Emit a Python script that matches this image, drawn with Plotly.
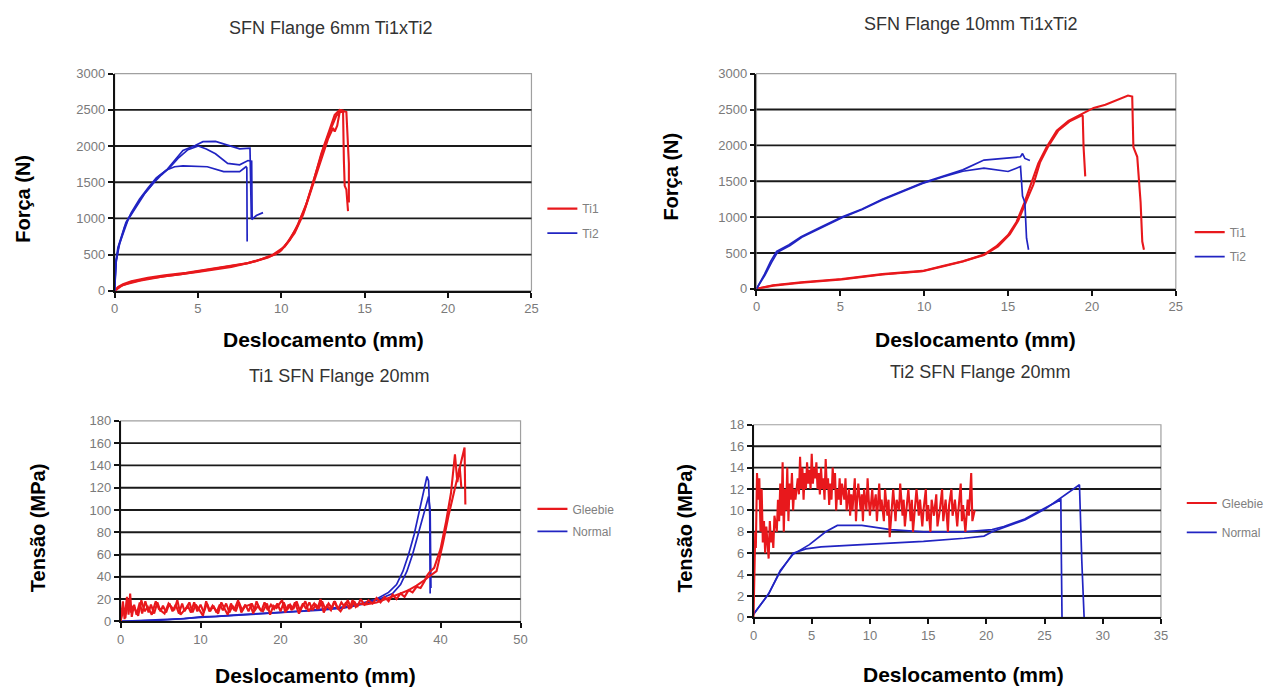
import plotly.graph_objects as go

RED = '#e8181c'
BLUE = '#2124c2'
PAGE_OFFSET = 8  # default body margin of the html page
W, H = 1285 - 2 * PAGE_OFFSET, 697 - 2 * PAGE_OFFSET

# ---- SFN Flange 6mm Ti1xTi2 : Força (N) x Deslocamento (mm)
f6_ti1_a_x = [0, 0.2, 0.5, 1.0, 2.0, 3.0, 4.3, 5.5, 6.8, 8.0, 9.0, 9.6, 10.0, 10.4, 10.9, 11.4, 11.9, 12.4, 12.9, 13.2, 13.5, 13.7, 13.75, 13.8, 13.9, 14.0]
f6_ti1_a_y = [0, 50, 90, 130, 180, 215, 248, 290, 335, 385, 450, 500, 560, 680, 860, 1130, 1490, 1900, 2230, 2430, 2500, 2490, 1800, 1450, 1400, 1100]
f6_ti1_b_x = [0, 0.3, 1.0, 2.0, 4.0, 6.0, 8.0, 9.2, 9.9, 10.5, 11.0, 11.5, 12.0, 12.5, 12.9, 13.3, 13.6, 13.9, 14.05, 14.05]
f6_ti1_b_y = [0, 60, 120, 170, 230, 300, 380, 460, 540, 700, 920, 1200, 1560, 1950, 2200, 2420, 2490, 2470, 1760, 1220]
f6_ti1_c_x = [0, 0.5, 1.5, 3.0, 5.0, 7.0, 8.5, 9.5, 10.2, 10.8, 11.3, 11.8, 12.3, 12.8, 13.1, 13.2, 13.35, 13.5, 13.75]
f6_ti1_c_y = [0, 80, 140, 200, 260, 330, 410, 500, 610, 800, 1050, 1400, 1780, 2100, 2250, 2200, 2280, 2470, 2470]

f6_ti2_a_x = [0, 0.07, 0.2, 0.44, 0.68, 1.17, 1.66, 2.15, 2.63, 3.12, 3.6, 4.1, 4.83, 5.3, 6.05, 6.78, 7.5, 8.12, 8.2, 8.25, 8.5, 8.9]
f6_ti2_a_y = [0, 400, 600, 767, 947, 1128, 1308, 1443, 1579, 1669, 1800, 1940, 2007, 2060, 2065, 2010, 1962, 1970, 1000, 990, 1040, 1080]
f6_ti2_b_x = [0, 0.08, 0.25, 0.5, 0.8, 1.3, 1.8, 2.3, 2.8, 3.3, 3.8, 4.4, 5.02, 5.5, 6.05, 6.78, 7.5, 8.0, 8.22, 8.25]
f6_ti2_b_y = [0, 380, 620, 790, 980, 1160, 1340, 1480, 1600, 1700, 1830, 1950, 2000, 1960, 1894, 1760, 1740, 1800, 1790, 1000]
f6_ti2_c_x = [0, 0.1, 0.3, 0.6, 1.0, 1.5, 2.0, 2.5, 3.12, 3.6, 4.1, 5.56, 6.54, 7.5, 7.88, 7.93, 7.95]
f6_ti2_c_y = [0, 420, 650, 880, 1080, 1270, 1420, 1560, 1669, 1714, 1727, 1714, 1646, 1646, 1714, 1700, 680]

# ---- SFN Flange 10mm Ti1xTi2
f10_ti1_a_x = [0, 1, 2.66, 5.08, 7.5, 9.9, 11.1, 12.3, 13.56, 14.29, 15.0, 15.5, 15.98, 16.34, 16.8, 17.3, 17.9, 18.6, 19.4, 20.1, 20.8, 21.5, 22.15, 22.4, 22.47, 22.7, 22.9, 23.0, 23.1]
f10_ti1_a_y = [0, 50, 91, 136, 205, 250, 318, 386, 477, 591, 750, 932, 1205, 1432, 1750, 1977, 2205, 2341, 2432, 2523, 2568, 2636, 2695, 2682, 1977, 1841, 1205, 659, 545]
f10_ti1_b_x = [0, 1, 2.66, 5.08, 7.5, 9.9, 11.1, 12.3, 13.56, 14.4, 15.1, 15.6, 16.1, 16.5, 16.9, 17.4, 18.0, 18.7, 19.4, 19.45, 19.5, 19.6]
f10_ti1_b_y = [0, 45, 85, 130, 200, 245, 310, 380, 470, 590, 760, 950, 1230, 1450, 1760, 1990, 2210, 2340, 2420, 2409, 1977, 1568]

f10_ti2_a_x = [0, 0.48, 0.85, 1.2, 1.94, 2.66, 3.87, 5.08, 6.3, 7.5, 8.7, 9.9, 11.1, 12.3, 13.56, 14.77, 15.74, 15.86, 16.0, 16.3]
f10_ti2_a_y = [0, 205, 386, 523, 614, 727, 864, 1000, 1114, 1250, 1364, 1477, 1568, 1659, 1795, 1818, 1841, 1886, 1818, 1790]
f10_ti2_b_x = [0, 0.5, 0.9, 1.25, 2.0, 2.7, 3.9, 5.1, 6.3, 7.5, 8.7, 9.9, 11.1, 12.3, 13.56, 14.29, 15.0, 15.74, 15.86, 16.0, 16.1, 16.22]
f10_ti2_b_y = [0, 190, 370, 510, 605, 720, 855, 990, 1105, 1240, 1355, 1470, 1560, 1640, 1682, 1659, 1636, 1705, 1295, 1205, 705, 545]

# ---- Ti1 SFN Flange 20mm : Tensão (MPa)
t1_gle_a_x = [0, 0.3, 0.5, 0.8, 1.0, 1.2, 1.4, 1.7, 2.0, 2.4,
              2.7, 3.1, 3.5, 3.8, 4.2, 4.6, 5.0, 5.3, 5.7, 6.1,
              6.5, 6.9, 7.3, 7.7, 8.0, 8.4, 8.8, 9.2, 9.6, 10.0,
              10.4, 10.8, 11.2, 11.6, 12.0, 12.4, 12.8, 13.2, 13.6, 14.0,
              14.4, 14.8, 15.2, 15.6, 16.0, 16.4, 16.8, 17.2, 17.6, 18.0,
              18.4, 18.8, 19.2, 19.6, 20.0, 20.4, 20.8, 21.2, 21.6, 22.0,
              22.4, 22.8, 23.2, 23.6, 24.0, 24.4, 24.8, 25.2, 25.6, 26.0,
              26.4, 26.8, 27.2, 27.6, 28.0, 28.4, 28.8, 29.2, 29.6, 30.0,
              30.5, 31.0, 31.5, 32.0, 32.5, 33.0, 33.5, 34.0, 34.5, 35.0,
              35.5, 36.0, 36.5, 37.0, 37.5, 38.0, 38.3, 38.6, 39.2, 40.0,
              40.7, 41.3, 41.8, 42.1, 42.4, 42.6]
t1_gle_a_y = [0, 18, 2, 22, 6, 25, 4, 15, 6, 17,
              7, 18, 8, 15, 7, 17, 9, 14, 8, 16,
              9, 15, 7, 16, 9, 14, 8, 17, 9, 15,
              8, 16, 9, 14, 8, 15, 10, 16, 8, 14,
              9, 17, 10, 15, 9, 16, 10, 14, 9, 17,
              10, 15, 11, 16, 9, 17, 10, 15, 11, 18,
              10, 16, 11, 17, 10, 15, 12, 18, 11, 16,
              12, 18, 11, 17, 13, 19, 12, 18, 13, 20,
              15, 19, 16, 21, 17, 22, 18, 24, 20, 25,
              22, 28, 26, 31, 30, 36, 41, 44, 48, 65,
              90, 115, 150, 125, 138, 120]
t1_gle_b_x = [0, 0.4, 0.6, 0.9, 1.3, 1.6, 2.2, 2.6, 3.0, 3.4,
              3.9, 4.4, 4.8, 5.5, 6.0, 6.7, 7.1, 7.5, 8.2, 8.6,
              9.0, 9.4, 9.8, 10.3, 10.7, 11.1, 11.5, 12.2, 12.6, 13.0,
              13.4, 13.8, 14.2, 14.7, 15.1, 15.5, 16.2, 16.6, 17.0, 17.4,
              17.8, 18.3, 18.7, 19.1, 19.5, 20.2, 20.6, 21.0, 21.4, 21.8,
              22.3, 22.7, 23.1, 23.5, 24.2, 24.6, 25.0, 25.4, 25.8, 26.3,
              26.7, 27.1, 27.5, 28.2, 28.6, 29.0, 29.4, 29.8,
              30.5, 32, 34, 35, 36, 37, 38, 38.5, 39.5, 40.3,
              41.0, 41.7, 42.3, 42.8, 43.0, 43.1]
t1_gle_b_y = [0, 12, 3, 20, 8, 14, 5, 19, 9, 13,
              6, 18, 11, 7, 16, 10, 19, 6, 12, 17,
              8, 15, 11, 5, 18, 9, 14, 7, 17, 12,
              6, 16, 10, 19, 8, 13, 15, 7, 18, 11,
              9, 16, 6, 14, 12, 19, 8, 15, 10, 17,
              7, 13, 18, 9, 16, 11, 20, 8, 14, 10,
              18, 12, 9, 17, 11, 19, 13, 16,
              15, 17, 22, 25, 28, 32, 37, 40, 45, 70,
              95, 118, 135, 150, 156, 105]

t1_nor_a_x = [0, 2, 5, 8, 10, 12, 15, 18, 20, 23, 25, 28, 30, 32, 33.5, 34.5, 35.3, 36, 36.7, 37.2, 37.7, 38, 38.3, 38.5, 38.65, 38.7]
t1_nor_a_y = [0, 0.5, 1.5, 2.5, 4, 4.5, 6, 7, 8, 9.5, 11, 13, 16, 20, 26, 33, 45, 60, 78, 95, 110, 122, 130, 126, 95, 25]
t1_nor_b_x = [0, 5, 10, 15, 20, 25, 28, 30, 32, 34, 35, 35.8, 36.5, 37.2, 37.7, 38.2, 38.5, 38.7, 38.8]
t1_nor_b_y = [0, 1, 3.5, 5.5, 7.5, 10, 12, 15, 19, 25, 33, 45, 60, 78, 92, 105, 112, 100, 30]

# ---- Ti2 SFN Flange 20mm
t2_gle_x = [0, 0.1, 0.15, 0.2, 0.3, 0.4, 0.5, 0.6, 0.7, 0.8,
            0.9, 1.0, 1.1, 1.2, 1.3, 1.4, 1.5, 1.6, 1.7, 1.8,
            2.0, 2.1, 2.2, 2.3, 2.4, 2.5, 2.6, 2.7, 2.8, 2.9,
            3.0, 3.1, 3.2, 3.3, 3.4, 3.5, 3.6, 3.8, 3.9, 4.0,
            4.1, 4.2, 4.3, 4.4, 4.5, 4.6, 4.7, 4.8, 4.9, 5.0,
            5.1, 5.2, 5.3, 5.4, 5.5, 5.6, 5.7, 5.8, 5.9, 6.0,
            6.1, 6.2, 6.3, 6.4, 6.5, 6.6, 6.7, 6.8, 6.9, 7.0,
            7.1, 7.2, 7.3, 7.4, 7.5, 7.6, 7.8, 7.9, 8.0, 8.2,
            8.3, 8.4, 8.5, 8.7, 8.8, 8.9, 9.0, 9.2, 9.3, 9.4,
            9.5, 9.7, 9.8, 9.9, 10.0, 10.2, 10.3, 10.5, 10.6, 10.8,
            10.9, 11.0, 11.2, 11.3, 11.5, 11.6, 11.7, 11.9, 12.0, 12.2,
            12.3, 12.5, 12.6, 12.8, 12.9, 13.0, 13.2, 13.3, 13.5, 13.6,
            13.7, 13.9, 14.0, 14.2, 14.3, 14.5, 14.6, 14.8, 14.9, 15.0,
            15.2, 15.3, 15.5, 15.7, 15.8, 16.0, 16.2, 16.3, 16.5, 16.7,
            16.8, 17.0, 17.1, 17.3, 17.5, 17.6, 17.8, 17.9, 18.0, 18.2,
            18.4, 18.5, 18.7, 18.8, 19.0]
t2_gle_y = [0, 4, 8, 6.5, 13.5, 11, 13, 8, 12, 7,
            9, 6, 8.5, 7, 5.5, 9, 7, 8, 6.5, 9.5,
            8, 11, 9, 12.5, 9.5, 14.5, 8, 12, 10, 14,
            9, 12.5, 11, 13.5, 10, 12, 11, 13, 11.5, 15,
            12, 14, 11, 13.5, 12, 14.5, 12.5, 13.8, 12, 15.3,
            12.5, 14, 13, 14.5, 12, 13.5, 11.5, 14, 12, 13,
            11, 14.8, 12, 13, 10.5, 12.5, 11, 14, 12, 13.5,
            10, 12, 11, 13, 10.5, 12.5, 11, 13, 10, 12,
            9.5, 11.5, 10, 13, 9, 11, 12.5, 10, 11.5, 9,
            12, 10, 13, 11, 9.5, 12, 10, 11.5, 9, 12.5,
            10, 11, 9, 12, 9.5, 11, 7.5, 10.5, 12, 9,
            11, 10, 12.5, 9.5, 11, 8.5, 10.5, 12, 9, 11,
            8, 10.5, 12, 9.5, 11, 8.5, 10, 12, 9, 10.5,
            8, 11, 9.5, 11.5, 8.5, 10, 12, 9, 11, 8,
            10.5, 12, 9.5, 11, 8.5, 10, 12.5, 9, 10.5, 8,
            11, 9.5, 13.5, 9, 10]

t2_nor_a_x = [0, 0.5, 1.3, 2.3, 3.4, 4.8, 6.2, 7.2, 9.3, 11.8, 14.6, 18.1, 20.5, 21.5, 23.3, 25.0, 26.4, 26.45, 26.5]
t2_nor_a_y = [0.3, 1.0, 2.2, 4.4, 5.9, 6.8, 8.0, 8.6, 8.6, 8.2, 8.0, 8.0, 8.2, 8.5, 9.2, 10.2, 11.0, 5, 0]
t2_nor_b_x = [0, 0.5, 1.3, 2.3, 3.4, 4.5, 5.8, 9.3, 14.6, 18.1, 19.8, 20.5, 21.5, 23.3, 25.0, 27.1, 28.0, 28.2, 28.4]
t2_nor_b_y = [0.3, 1.0, 2.2, 4.3, 6.0, 6.4, 6.6, 6.8, 7.1, 7.4, 7.6, 8.0, 8.4, 9.1, 10.1, 11.7, 12.4, 5.3, 0]


def px(x):
    return (x - PAGE_OFFSET) / W


def py(y):
    return 1 - (y - PAGE_OFFSET) / H


# panel setup: plot area in screen pixels (left, right, top, bottom)
panels = [
    dict(box=(111.5, 532, 68, 290), xr=25, xd=5, yr=3000, yd=500,
         title='SFN Flange 6mm Ti1xTi2', tpos=(329, 21), ytitle='Força (N)', ypos=(19, 196), xpos=(322, 340)),
    dict(box=(759, 1182, 68, 288), xr=25, xd=5, yr=3000, yd=500,
         title='SFN Flange 10mm Ti1xTi2', tpos=(975, 17), ytitle='Força (N)', ypos=(673, 173), xpos=(980, 340)),
    dict(box=(117.5, 521, 423, 628), xr=50, xd=10, yr=180, yd=20,
         title='Ti1 SFN Flange 20mm', tpos=(338, 377), ytitle='Tensão (MPa)', ypos=(35, 532), xpos=(314, 683)),
    dict(box=(756, 1167, 427, 624), xr=35, xd=5, yr=18, yd=2,
         title='Ti2 SFN Flange 20mm', tpos=(984, 373), ytitle='Tensão (MPa)', ypos=(687, 533), xpos=(968, 682)),
]

series = [
    # (panel, x, y, color, name, legend key, show in legend)
    (1, f6_ti1_a_x, f6_ti1_a_y, RED, 'Ti1', 'legend', True),
    (1, f6_ti1_b_x, f6_ti1_b_y, RED, 'Ti1', 'legend', False),
    (1, f6_ti1_c_x, f6_ti1_c_y, RED, 'Ti1', 'legend', False),
    (1, f6_ti2_a_x, f6_ti2_a_y, BLUE, 'Ti2', 'legend2', True),
    (1, f6_ti2_b_x, f6_ti2_b_y, BLUE, 'Ti2', 'legend2', False),
    (1, f6_ti2_c_x, f6_ti2_c_y, BLUE, 'Ti2', 'legend2', False),
    (2, f10_ti1_a_x, f10_ti1_a_y, RED, 'Ti1', 'legend3', True),
    (2, f10_ti1_b_x, f10_ti1_b_y, RED, 'Ti1', 'legend3', False),
    (2, f10_ti2_a_x, f10_ti2_a_y, BLUE, 'Ti2', 'legend4', True),
    (2, f10_ti2_b_x, f10_ti2_b_y, BLUE, 'Ti2', 'legend4', False),
    (3, t1_nor_a_x, t1_nor_a_y, BLUE, 'Normal', 'legend6', False),
    (3, t1_nor_b_x, t1_nor_b_y, BLUE, 'Normal', 'legend6', True),
    (3, t1_gle_a_x, t1_gle_a_y, RED, 'Gleebie', 'legend5', True),
    (3, t1_gle_b_x, t1_gle_b_y, RED, 'Gleebie', 'legend5', False),
    (4, t2_nor_a_x, t2_nor_a_y, BLUE, 'Normal', 'legend8', True),
    (4, t2_nor_b_x, t2_nor_b_y, BLUE, 'Normal', 'legend8', False),
    (4, t2_gle_x, t2_gle_y, RED, 'Gleebie', 'legend7', True),
]

# legend positions in screen pixels (left edge, item centre)
legend_pos = {
    'legend': (543, 206), 'legend2': (543, 231),
    'legend3': (1196, 230), 'legend4': (1196, 255),
    'legend5': (533, 513), 'legend6': (533, 536),
    'legend7': (1188, 507), 'legend8': (1188, 537),
}

fig = go.Figure()

for n, xs, ys, col, name, leg, show in series:
    sfx = '' if n == 1 else str(n)
    fig.add_trace(go.Scatter(x=xs, y=ys, mode='lines', name=name,
                             line=dict(color=col, width=2.1 if col == RED else 1.7),
                             xaxis='x' + sfx, yaxis='y' + sfx,
                             legend=leg, showlegend=show))

layout = dict(width=W, height=H, margin=dict(l=0, r=0, t=0, b=0),
              paper_bgcolor='white', plot_bgcolor='white',
              font=dict(family='Arial, Liberation Sans, sans-serif'))
shapes = []
annotations = []
tick_font = dict(family='Arial, Liberation Sans, sans-serif', size=13, color='#7a7a7a')

for i, p in enumerate(panels, start=1):
    sfx = '' if i == 1 else str(i)
    l, r, t, b = p['box']
    layout['xaxis' + sfx] = dict(domain=[px(l), px(r)], range=[0, p['xr']], dtick=p['xd'],
                                 anchor='y' + sfx, showgrid=False, zeroline=False,
                                 showline=True, linecolor='#111', linewidth=1.5,
                                 ticks='outside', ticklen=5, tickcolor='#111', tickwidth=1.5,
                                 tickfont=tick_font, fixedrange=True)
    layout['yaxis' + sfx] = dict(domain=[py(b), py(t)], range=[0, p['yr']], dtick=p['yd'],
                                 anchor='x' + sfx, showgrid=False, zeroline=False,
                                 showline=True, linecolor='#111', linewidth=1.5,
                                 ticks='outside', ticklen=5, tickcolor='#111', tickwidth=1.5,
                                 tickfont=tick_font, fixedrange=True)
    xref, yref = 'x' + sfx, 'y' + sfx
    # grey frame on top and right
    shapes.append(dict(type='rect', xref=xref + ' domain', yref=yref + ' domain',
                       x0=0, x1=1, y0=0, y1=1, line=dict(color='#a0a0a0', width=1.2), layer='below'))
    # black horizontal gridlines at each tick below the top
    v = p['yd']
    while v < p['yr'] - 1e-9:
        shapes.append(dict(type='line', xref=xref + ' domain', yref=yref,
                           x0=0, x1=1, y0=v, y1=v, line=dict(color='#1a1a1a', width=1.9), layer='below'))
        v += p['yd']
    annotations.append(dict(text=p['title'], xref='paper', yref='paper',
                            x=px(p['tpos'][0]), y=py(p['tpos'][1]), showarrow=False,
                            xanchor='center', yanchor='middle',
                            font=dict(size=18, color='#333')))
    annotations.append(dict(text='<b>' + p['ytitle'] + '</b>', xref='paper', yref='paper',
                            x=px(p['ypos'][0]), y=py(p['ypos'][1]), showarrow=False, textangle=-90,
                            xanchor='center', yanchor='middle',
                            font=dict(size=20, color='#000')))
    annotations.append(dict(text='<b>Deslocamento (mm)</b>', xref='paper', yref='paper',
                            x=px(p['xpos'][0]), y=py(p['xpos'][1]), showarrow=False,
                            xanchor='center', yanchor='middle',
                            font=dict(size=21, color='#000')))

for key, (lx, ly) in legend_pos.items():
    layout[key] = dict(x=px(lx), y=py(ly), xanchor='left', yanchor='middle',
                       bgcolor='rgba(0,0,0,0)', borderwidth=0, itemwidth=30,
                       font=dict(size=12, color='#808080'), tracegroupgap=0)

layout['shapes'] = shapes
layout['annotations'] = annotations
fig.update_layout(**layout)

fig.write_html("out.html")
